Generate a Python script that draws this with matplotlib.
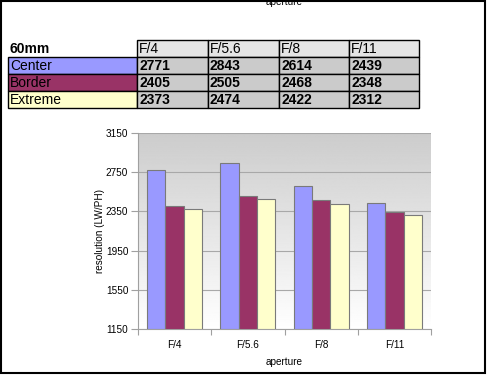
import numpy as np
import matplotlib
matplotlib.use("Agg")
import matplotlib.pyplot as plt
from matplotlib.patches import Rectangle

plt.rcParams['font.family'] = ['Liberation Sans', 'DejaVu Sans']

apertures = ['F/4', 'F/5.6', 'F/8', 'F/11']
series = ['Center', 'Border', 'Extreme']
center = [2771, 2843, 2614, 2439]
border = [2405, 2505, 2468, 2348]
extreme = [2373, 2474, 2422, 2312]
colors = ['#9999ff', '#993366', '#ffffcc']
yticks = [1150, 1550, 1950, 2350, 2750, 3150]

W, H = 489, 376
fig = plt.figure(figsize=(W / 100, H / 100), dpi=100)

# overlay in pixel coordinates for border, title and table
ov = fig.add_axes([0, 0, 1, 1])
ov.set_xlim(0, W)
ov.set_ylim(H, 0)
ov.axis('off')
ov.add_patch(Rectangle((1, 1), 484, 372, fill=False, ec='black', lw=1.5))
ov.text(284, 5, 'aperture', ha='center', va='baseline', fontsize=7.2)

col_x = [8, 137, 208, 279, 349, 419]
row_y = [39.5, 56.5, 73.5, 90.5, 107.5]
rows = [center, border, extreme]

# header row
ov.text(col_x[0] + 2, (row_y[0] + row_y[1]) / 2 + 1, '60mm', fontsize=10,
        fontweight='bold', va='center', ha='left')
for j, ap in enumerate(apertures):
    ov.add_patch(Rectangle((col_x[j + 1], row_y[0]), col_x[j + 2] - col_x[j + 1],
                           row_y[1] - row_y[0], fc='#e4e4e4', ec='black', lw=1))
    ov.text(col_x[j + 1] + 2, (row_y[0] + row_y[1]) / 2 + 1, ap, fontsize=10,
            va='center', ha='left')

for i, name in enumerate(series):
    y0, y1 = row_y[i + 1], row_y[i + 2]
    ov.add_patch(Rectangle((col_x[0], y0), col_x[1] - col_x[0], y1 - y0,
                           fc=colors[i], ec='black', lw=1))
    ov.text(col_x[0] + 2, (y0 + y1) / 2 + 1, name, fontsize=10, va='center', ha='left')
    for j, v in enumerate(rows[i]):
        ov.add_patch(Rectangle((col_x[j + 1], y0), col_x[j + 2] - col_x[j + 1], y1 - y0,
                               fc='#cbcbcb', ec='black', lw=1))
        ov.text(col_x[j + 1] + 2, (y0 + y1) / 2 + 1, str(v), fontsize=10,
                fontweight='bold', va='center', ha='left')

# chart
ax = fig.add_axes([138 / W, 1 - 329 / H, 293 / W, 196 / H])
grad = np.linspace(0.80, 1.0, 256).reshape(-1, 1)
ax.imshow(grad, cmap='gray', vmin=0, vmax=1, aspect='auto',
          extent=[-0.5, 3.5, 1150, 3150], origin='upper', zorder=0)

x = np.arange(len(apertures))
w = 0.25
for k, vals in enumerate(rows):
    ax.bar(x + (k - 1) * w, np.array(vals) - 1150, w, bottom=1150, color=colors[k],
           edgecolor='#7a7a7a', linewidth=0.8, zorder=3)

ax.set_xlim(-0.5, 3.5)
ax.set_ylim(1150, 3150)
ax.set_yticks(yticks)
ax.set_yticklabels([str(t) for t in yticks], fontsize=7.2)
for t in yticks:
    ax.axhline(t, color='#a8a8a8', lw=0.8, zorder=1)

ax.set_xticks(x)
ax.set_xticklabels(apertures, fontsize=7.2)
ax.set_xticks(np.arange(-0.5, 4, 1), minor=True)
ax.tick_params(axis='x', which='major', length=0, pad=8)
ax.tick_params(axis='x', which='minor', length=4, color='#a0a0a0', width=0.8)
ax.tick_params(axis='y', length=5, color='#a0a0a0', width=0.8, pad=2)

for s in ['top', 'right']:
    ax.spines[s].set_visible(False)
for s in ['left', 'bottom']:
    ax.spines[s].set_color('#a0a0a0')
    ax.spines[s].set_linewidth(0.8)

fig.text(100 / W, 1 - 231 / H, 'resolution (LW/PH)', rotation=90, fontsize=7.2,
         ha='center', va='center')
fig.text(284 / W, 1 - 362 / H, 'aperture', fontsize=7.2, ha='center', va='center')

fig.savefig('out.png', dpi=100)
